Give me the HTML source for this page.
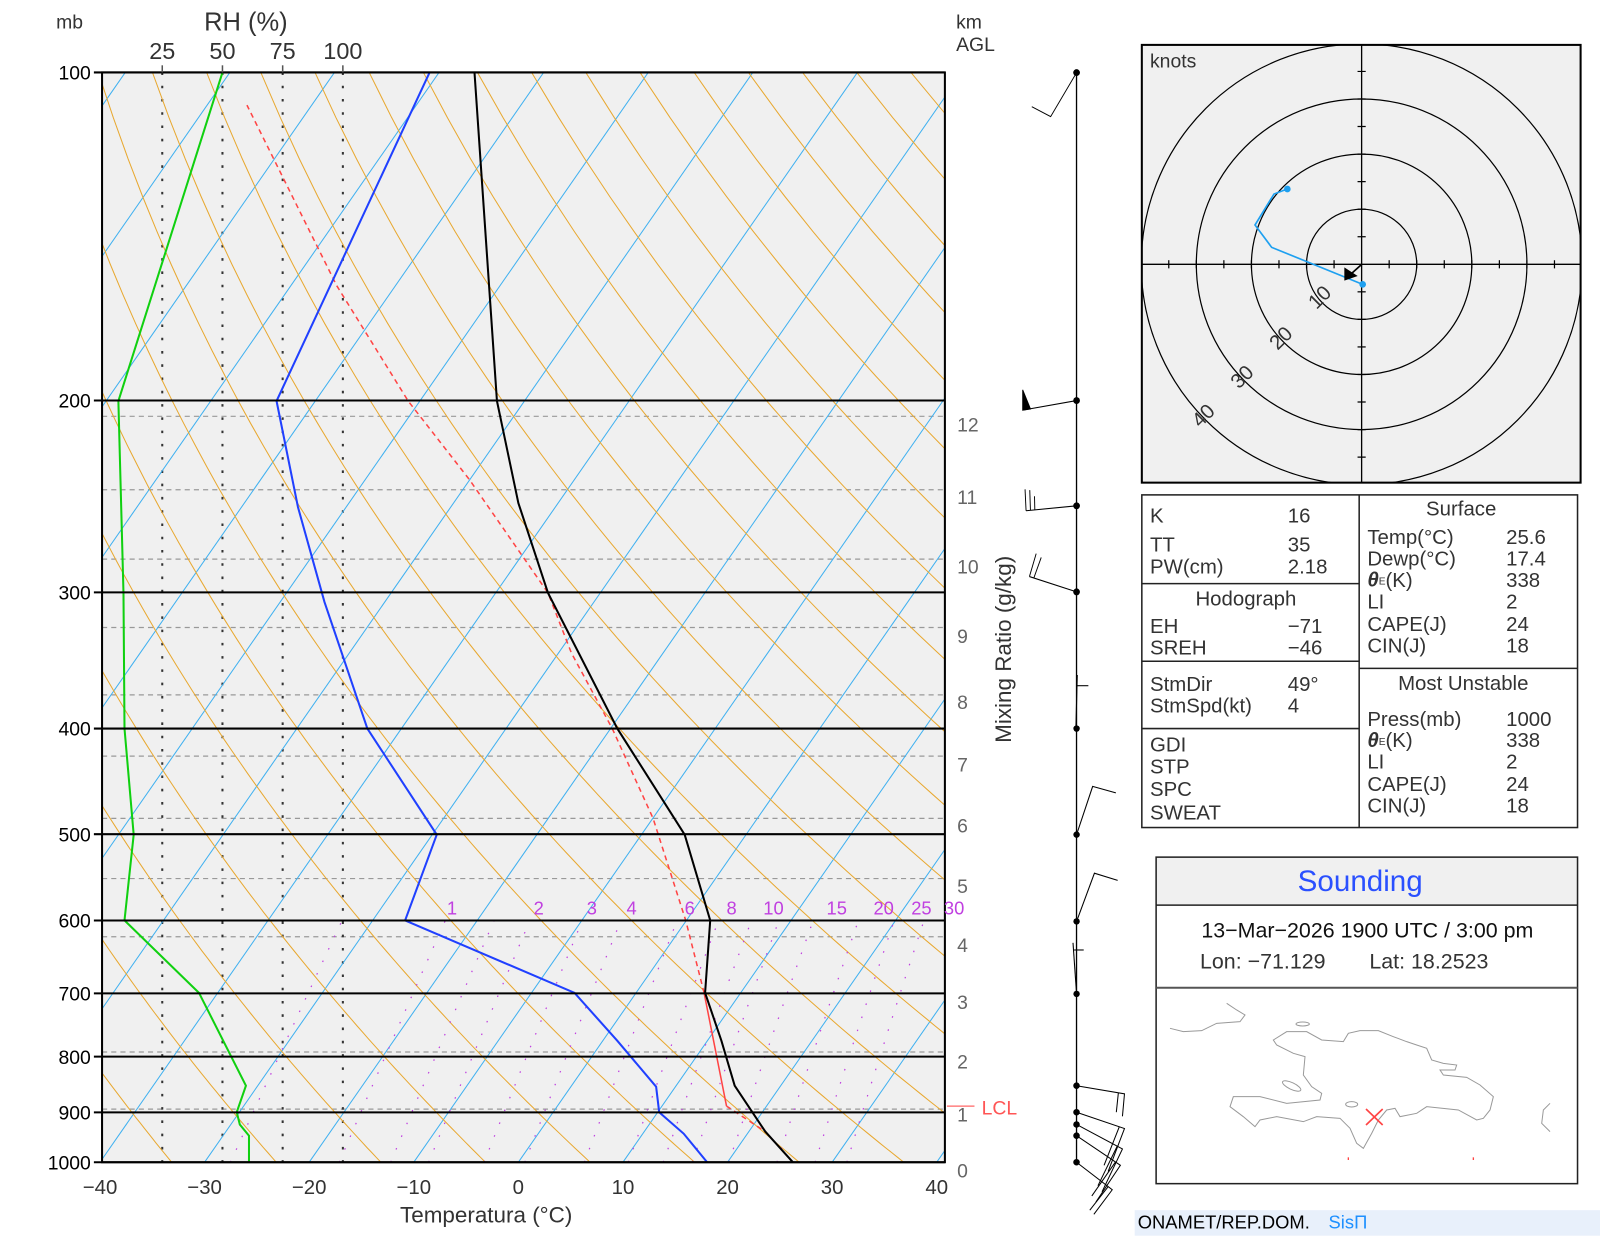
<!DOCTYPE html>
<html><head><meta charset="utf-8"><style>
html,body{margin:0;padding:0;background:#fff;}
svg{display:block;font-family:"Liberation Sans",sans-serif;}
text{fill:#333;}
</style></head><body>
<svg id="s" width="1600" height="1236" viewBox="0 0 1568 1211.3" xmlns="http://www.w3.org/2000/svg">
<defs><clipPath id="cp"><rect x="100" y="71" width="826" height="1068"/></clipPath></defs>
<rect x="100" y="71" width="826" height="1068" fill="#f0f0f0"/>
<g id="grid" clip-path="url(#cp)"></g>
<g id="prof" clip-path="url(#cp)"></g>
<rect x="100" y="71" width="826" height="1068" fill="none" stroke="#000" stroke-width="2"/>
<g id="labels"></g>

<text x="55" y="28" font-size="19">mb</text>
<text x="200" y="30" font-size="25">RH  (%)</text>
<g font-size="23" text-anchor="middle">
<text x="159" y="58">25</text><text x="218" y="58">50</text><text x="277" y="58">75</text><text x="336" y="58">100</text>
</g>
<text x="937" y="28" font-size="19">km</text>
<text x="937" y="50" font-size="19">AGL</text>
<text x="392" y="1198" font-size="22">Temperatura (°C)</text>
<text transform="translate(991,728) rotate(-90)" font-size="22">Mixing Ratio (g/kg)</text>
<line x1="928" y1="1084" x2="955" y2="1084" stroke="#f66" stroke-width="1.2"/>
<text x="962" y="1092" font-size="19" style="fill:#f55">LCL</text>

<line x1="1055" y1="71" x2="1055" y2="1139" stroke="#000" stroke-width="1.3"/>
<g transform="translate(974.2,58.8) scale(0.33,0.375)" stroke="#000" stroke-width="2.8" fill="none">
<polyline points="245,33 168,148 112,122"/>
<polyline points="245,890 85,915"/><polygon points="85,915 85,862 108,912" fill="#000"/>
<polyline points="245,1165 95,1178"/><line x1="95" y1="1178" x2="92" y2="1122"/><line x1="108" y1="1177" x2="106" y2="1124"/><line x1="121" y1="1176" x2="120" y2="1140"/>
<polyline points="245,1390 105,1350"/><line x1="105" y1="1350" x2="125" y2="1290"/><line x1="118" y1="1354" x2="140" y2="1300"/>
<g fill="#000" stroke="none"><ellipse cx="245" cy="33" rx="10" ry="9"/><ellipse cx="245" cy="890" rx="10" ry="9"/><ellipse cx="245" cy="1165" rx="10" ry="9"/><ellipse cx="245" cy="1390" rx="10" ry="9"/></g>
</g>
<g transform="translate(969.3,637) scale(0.35)" stroke="#000" stroke-width="3" fill="none">
<line x1="247" y1="70" x2="243" y2="220"/><line x1="246" y1="100" x2="278" y2="100"/>
<polyline points="245,517 290,382 355,400"/>
<polyline points="245,760 295,625 360,645"/>
<line x1="245" y1="963" x2="235" y2="820"/><line x1="238" y1="840" x2="265" y2="840"/>
<g fill="#000" stroke="none"><circle cx="245" cy="220" r="9"/><circle cx="245" cy="517" r="9"/><circle cx="245" cy="760" r="9"/><circle cx="245" cy="963" r="9"/></g>
</g>
<g stroke="#000" stroke-width="1" fill="none">
<polyline points="1055,1064 1102,1072 1100,1094"/><line x1="1096" y1="1071" x2="1094" y2="1090"/>
<polyline points="1055,1090 1102,1106 1086,1148"/><line x1="1097" y1="1104" x2="1082" y2="1142"/>
<polyline points="1055,1102 1100,1126 1080,1168"/><line x1="1095" y1="1123" x2="1076" y2="1162"/>
<polyline points="1055,1113 1098,1142 1074,1178"/><line x1="1093" y1="1139" x2="1070" y2="1172"/>
<polyline points="1055,1139 1090,1166 1072,1190"/><line x1="1086" y1="1163" x2="1068" y2="1186"/>
</g>
<g fill="#000"><circle cx="1055" cy="1064" r="3.2"/><circle cx="1055" cy="1090" r="3.2"/><circle cx="1055" cy="1102" r="3.2"/><circle cx="1055" cy="1113" r="3.2"/><circle cx="1055" cy="1139" r="3.2"/></g>

<rect x="1119" y="44" width="430" height="429" fill="#f0f0f0" stroke="#000" stroke-width="2"/>
<g id="hodo"></g>
<text x="1127" y="66" font-size="19">knots</text>
<g transform="translate(1107.4,147) scale(0.3267)">
<polyline points="698,403 425,292 375,225 432,132 472,117" fill="none" stroke="#1ea0f0" stroke-width="5"/>
<circle cx="698" cy="403" r="10" fill="#1ea0f0"/><circle cx="472" cy="117" r="10" fill="#1ea0f0"/>
<line x1="695" y1="343" x2="665" y2="370" stroke="#000" stroke-width="5"/>
<polygon points="643,352 683,378 643,392" fill="#000"/>
</g>

<rect x="1119" y="485" width="427" height="326" fill="none" stroke="#222" stroke-width="1.5"/>
<line x1="1332" y1="485" x2="1332" y2="811" stroke="#222" stroke-width="1.5"/>
<line x1="1119" y1="572" x2="1332" y2="572" stroke="#222" stroke-width="1.5"/>
<line x1="1119" y1="648" x2="1332" y2="648" stroke="#222" stroke-width="1.5"/>
<line x1="1119" y1="714" x2="1332" y2="714" stroke="#222" stroke-width="1.5"/>
<line x1="1332" y1="655" x2="1546" y2="655" stroke="#222" stroke-width="1.5"/>
<g font-size="20" dominant-baseline="middle">
<text x="1127" y="507">K</text><text x="1262" y="507">16</text>
<text x="1127" y="535">TT</text><text x="1262" y="535">35</text>
<text x="1127" y="557">PW(cm)</text><text x="1262" y="557">2.18</text>
<text x="1221" y="588" text-anchor="middle">Hodograph</text>
<text x="1127" y="615">EH</text><text x="1262" y="615">−71</text>
<text x="1127" y="636">SREH</text><text x="1262" y="636">−46</text>
<text x="1127" y="672">StmDir</text><text x="1262" y="672">49°</text>
<text x="1127" y="693">StmSpd(kt)</text><text x="1262" y="693">4</text>
<text x="1127" y="731">GDI</text><text x="1127" y="753">STP</text><text x="1127" y="775">SPC</text><text x="1127" y="798">SWEAT</text>
<text x="1432" y="500" text-anchor="middle">Surface</text>
<text x="1340" y="528">Temp(°C)</text><text x="1476" y="528">25.6</text>
<text x="1340" y="549">Dewp(°C)</text><text x="1476" y="549">17.4</text>
<text x="1340" y="570"><tspan font-weight="bold" font-style="italic">θ</tspan><tspan font-size="10">E</tspan>(K)</text><text x="1476" y="570">338</text>
<text x="1340" y="591">LI</text><text x="1476" y="591">2</text>
<text x="1340" y="613">CAPE(J)</text><text x="1476" y="613">24</text>
<text x="1340" y="634">CIN(J)</text><text x="1476" y="634">18</text>
<text x="1434" y="671" text-anchor="middle">Most Unstable</text>
<text x="1340" y="706">Press(mb)</text><text x="1476" y="706">1000</text>
<text x="1340" y="727"><tspan font-weight="bold" font-style="italic">θ</tspan><tspan font-size="10">E</tspan>(K)</text><text x="1476" y="727">338</text>
<text x="1340" y="748">LI</text><text x="1476" y="748">2</text>
<text x="1340" y="770">CAPE(J)</text><text x="1476" y="770">24</text>
<text x="1340" y="791">CIN(J)</text><text x="1476" y="791">18</text>
</g>

<rect x="1133" y="840" width="413" height="47" fill="#f0f0f0"/>
<rect x="1133" y="840" width="413" height="320" fill="none" stroke="#222" stroke-width="1.5"/>
<line x1="1133" y1="887" x2="1546" y2="887" stroke="#222" stroke-width="1.5"/>
<line x1="1133" y1="968" x2="1546" y2="968" stroke="#555" stroke-width="2"/>
<text x="1333" y="873" font-size="29" text-anchor="middle" style="fill:#2a50ff">Sounding</text>
<text x="1340" y="919" font-size="21" text-anchor="middle" style="fill:#111">13−Mar−2026 1900 UTC / 3:00 pm</text>
<text x="1176" y="949" font-size="21">Lon: −71.129</text>
<text x="1342" y="949" font-size="21">Lat: 18.2523</text>
<g transform="translate(1107.4,940.8) scale(0.3267)" fill="none" stroke="#999" stroke-width="3">
<polyline points="120,205 160,215 215,212 260,190 330,185 345,165 320,150 290,130"/>
<polygon points="430,240 470,215 530,215 575,240 640,245 655,220 690,212 745,212 790,230 830,245 860,255 890,265 905,300 940,310 980,315 975,330 930,330 940,345 1010,352 1050,375 1090,410 1080,450 1060,475 1040,480 985,450 890,440 860,460 810,470 795,445 770,450 745,480 725,520 700,565 680,550 660,505 630,475 560,470 520,485 440,470 390,480 375,500 340,470 300,440 310,410 390,410 470,430 570,420 575,400 545,380 520,345 525,290 490,280 440,255"/>
<ellipse cx="485" cy="378" rx="30" ry="10" transform="rotate(25 485 378)"/>
<ellipse cx="518" cy="192" rx="20" ry="6"/>
<ellipse cx="665" cy="433" rx="18" ry="8"/>
<polyline points="1260,430 1240,450 1235,490 1260,515"/>
<line x1="708" y1="447" x2="758" y2="495" stroke="#f44" stroke-width="5"/>
<line x1="758" y1="447" x2="708" y2="495" stroke="#f44" stroke-width="5"/>
<line x1="655" y1="592" x2="655" y2="600" stroke="#f44" stroke-width="4"/>
<line x1="1030" y1="592" x2="1030" y2="600" stroke="#f44" stroke-width="4"/>
</g>
<rect x="1112" y="1186" width="456" height="25" fill="#e8f0fb"/>
<text x="1115" y="1204" font-size="18" style="fill:#000">ONAMET/REP.DOM.</text>
<text x="1302" y="1204" font-size="18" style="fill:#1e90ff">SisΠ</text>

<script>
(function(){
var NS="http://www.w3.org/2000/svg";
function Y(p){return 1139-1068*Math.log10(1000/p);}
function X(T,y){return 508+10.25*T+0.695*(1139-y);}
function el(parent,tag,attrs,txt){var e=document.createElementNS(NS,tag);for(var k in attrs)e.setAttribute(k,attrs[k]);if(txt!==undefined)e.textContent=txt;parent.appendChild(e);return e;}
var g=document.getElementById('grid'),pr=document.getElementById('prof'),lb=document.getElementById('labels');
[408,480,548,615,681,741,802,861,918,1031,1087].forEach(function(y){el(g,'line',{x1:100,y1:y,x2:926,y2:y,stroke:'#999','stroke-width':1.2,'stroke-dasharray':'5 4'});});
[159,218,277,336].forEach(function(x){el(g,'line',{x1:x,y1:71,x2:x,y2:1139,stroke:'#333','stroke-width':2,'stroke-dasharray':'2.5 10.5'});});
for(var T=-160;T<=40;T+=10){el(g,'line',{x1:X(T,1139),y1:1139,x2:X(T,71),y2:71,stroke:'#3fb0f0','stroke-width':1});}
for(var th=240;th<=520;th+=10){var pts=[];for(var p=1050;p>=95;p-=10){var t=th*Math.pow(p/1000,0.2857)-273.15;var y=Y(p);pts.push(X(t,y).toFixed(1)+','+y.toFixed(1));}
el(g,'polyline',{points:pts.join(' '),fill:'none',stroke:'#e8a830','stroke-width':1});}
var ws=[0.4,1,1.5,2,3,4,6,8,10,12,15,20,25,30];
ws.forEach(function(w){var pts=[];for(var p=1000;p>=600;p-=10){var e=w*p/(622+w);var l=Math.log(e/6.112);var td=243.5*l/(17.67-l);var y=Y(p);pts.push(X(td,y).toFixed(1)+','+y.toFixed(1));}
el(g,'polyline',{points:pts.join(' '),fill:'none',stroke:'#c040e0','stroke-width':1.2,'stroke-dasharray':'1.5 12'});});
[[443,'1'],[528,'2'],[580,'3'],[619,'4'],[676,'6'],[717,'8'],[758,'10'],[820,'15'],[866,'20'],[903,'25'],[935,'30']].forEach(function(a){el(lb,'text',{x:a[0],y:896,'font-size':18,'text-anchor':'middle',style:'fill:#c040e0'},a[1]);});
var ps=[100,200,300,400,500,600,700,800,900,1000];
ps.forEach(function(p){var y=Y(p);el(lb,'line',{x1:92,y1:y,x2:926,y2:y,stroke:'#000','stroke-width':2});
el(lb,'text',{x:89,y:y+7,'font-size':19,'text-anchor':'end',style:'fill:#000'},String(p));});
[159,218,277,336].forEach(function(x){el(lb,'line',{x1:x,y1:64,x2:x,y2:71,stroke:'#555','stroke-width':1.5});});
for(var t=-40;t<=40;t+=10){var x=508+10.25*t;el(lb,'text',{x:x,y:1170,'font-size':20,'text-anchor':'middle'},(t<0?'−'+(-t):String(t)));}
[[1147,'0'],[1092,'1'],[1040,'2'],[982,'3'],[926,'4'],[868,'5'],[809,'6'],[749,'7'],[688,'8'],[623,'9'],[555,'10'],[487,'11'],[416,'12']].forEach(function(a){el(lb,'text',{x:938,y:a[0]+7,'font-size':19,style:'fill:#666'},a[1]);});
el(pr,'polyline',{points:'777,1139 750,1109 712,1084',fill:'none',stroke:'#f44','stroke-width':1.5,'stroke-dasharray':'5 4'});
el(pr,'polyline',{points:'712,1084 690,973',fill:'none',stroke:'#f44','stroke-width':1.5});
el(pr,'polyline',{points:'690,973 672,902 640,802 600,714 560,640 537,581 460,470 400,393 330,280 242,103',fill:'none',stroke:'#f44','stroke-width':1.5,'stroke-dasharray':'5 4'});
el(pr,'polyline',{points:'218,71 116,393 121,581 122,714 131,818 122,902 195,973 241,1064 232,1090 235,1102 244,1113 244,1139',fill:'none',stroke:'#10d010','stroke-width':2});
el(pr,'polyline',{points:'421,71 271,393 292,497 318,590 360,714 428,818 397,902 563,973 605,1020 643,1065 646,1090 670,1111 693,1139',fill:'none',stroke:'#2040ff','stroke-width':2});
el(pr,'polyline',{points:'465,71 487,393 508,493 537,581 605,714 671,818 696,902 691,973 707,1020 720,1064 750,1109 777,1139',fill:'none',stroke:'#000','stroke-width':2});
var h=document.getElementById('hodo');var cx=1334.4,cy=259;
var cl=el(h,'clipPath',{id:'hc'});el(cl,'rect',{x:1119,y:44,width:430,height:429});
var hg=el(h,'g',{'clip-path':'url(#hc)'});
[54,108,162,216].forEach(function(r){el(hg,'circle',{cx:cx,cy:cy,r:r,fill:'none',stroke:'#000','stroke-width':1.2});});
el(hg,'line',{x1:1119,y1:cy,x2:1549,y2:cy,stroke:'#000','stroke-width':1.3});
el(hg,'line',{x1:cx,y1:44,x2:cx,y2:473,stroke:'#000','stroke-width':1.3});
for(var k=-8;k<=8;k++){if(k==0)continue;var d=k*27;el(hg,'line',{x1:cx+d,y1:cy-4,x2:cx+d,y2:cy+4,stroke:'#000','stroke-width':1.2});el(hg,'line',{x1:cx-4,y1:cy+d,x2:cx+4,y2:cy+d,stroke:'#000','stroke-width':1.2});}
[[1298,296,'10'],[1260,336,'20'],[1222,374,'30'],[1184,412,'40']].forEach(function(a){el(hg,'text',{x:a[0],y:a[1],'font-size':20,'text-anchor':'middle',transform:'rotate(-45 '+a[0]+' '+a[1]+')'},a[2]);});
})();
</script>
</svg>
</body></html>
